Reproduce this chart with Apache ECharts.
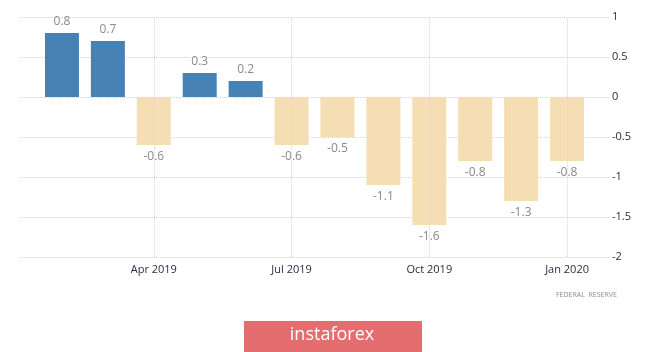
<!DOCTYPE html>
<html>
<head>
<meta charset="utf-8">
<script src="https://cdn.jsdelivr.net/npm/echarts@6/dist/echarts.min.js"></script>
<style>
  html, body { margin: 0; padding: 0; background: #fff; }
  #chart { width: 665px; height: 352px; }
</style>
</head>
<body>
<div id="chart"></div>
<script>
// monthly change, Feb 2019 - Jan 2020
var months = ['Feb 2019', 'Mar 2019', 'Apr 2019', 'May 2019', 'Jun 2019', 'Jul 2019',
              'Aug 2019', 'Sep 2019', 'Oct 2019', 'Nov 2019', 'Dec 2019', 'Jan 2020'];
var values = [0.8, 0.7, -0.6, 0.3, 0.2, -0.6, -0.5, -1.1, -1.6, -0.8, -1.3, -0.8];
var shownMonths = ['Apr 2019', 'Jul 2019', 'Oct 2019', 'Jan 2020'];
var yTicks = { min: -2, max: 1, step: 0.5 };

var chart = echarts.init(document.getElementById('chart'));

var barData = values.map(function (v) {
    return {
        value: v,
        itemStyle: { color: v >= 0 ? '#4682b4' : '#f5deb3' },
        label: { position: v >= 0 ? 'top' : 'bottom', distance: v >= 0 ? 5 : 6 }
    };
});

var option = {
    backgroundColor: '#fff',
    animation: false,
    grid: [
        // wide grid: horizontal lines + right labels
        { left: 20, right: 55, top: 17, bottom: 95 },
        // bars
        { left: 39, right: 75, top: 17, bottom: 95 }
    ],
    xAxis: [
        { gridIndex: 0, type: 'value', show: false, min: 0, max: 1 },
        {
            gridIndex: 1,
            type: 'category',
            data: months,
            boundaryGap: true,
            axisLine: { show: false },
            axisTick: { show: false },
            splitLine: { show: false },
            axisLabel: {
                margin: 7,
                color: '#2b2b45',
                fontSize: 11,
                fontFamily: 'Open Sans, sans-serif',
                interval: function (i, name) { return shownMonths.indexOf(name) >= 0; }
            }
        }
    ],
    yAxis: [
        {
            gridIndex: 0,
            type: 'value',
            position: 'right',
            min: yTicks.min,
            max: yTicks.max,
            interval: yTicks.step,
            axisLine: { show: false },
            axisTick: { show: false },
            axisLabel: {
                margin: 2,
                color: '#2b2b45',
                fontSize: 11,
                fontFamily: 'Open Sans, sans-serif'
            },
            splitLine: { lineStyle: { color: '#d4d4d4', type: 'dotted', width: 1 } }
        },
        {
            gridIndex: 1,
            type: 'value',
            min: yTicks.min,
            max: yTicks.max,
            interval: yTicks.step,
            show: false,
            splitLine: { show: false }
        }
    ],
    series: [
        {
            name: 'change',
            type: 'bar',
            xAxisIndex: 1,
            yAxisIndex: 1,
            barWidth: 34,
            data: barData,
            label: {
                show: true,
                color: '#8a8a8a',
                fontSize: 12,
                fontFamily: 'Open Sans, sans-serif'
            },
            markLine: {
                silent: true,
                symbol: 'none',
                label: { show: false },
                lineStyle: { color: '#d8d8d8', type: 'dotted', width: 1 },
                data: shownMonths.map(function (m) { return { xAxis: m }; })
            },
            z: 3
        }
    ],
    graphic: [
        {
            type: 'text',
            left: 556,
            top: 291,
            style: {
                text: 'FEDERAL  RESERVE',
                fill: '#8c8c8c',
                font: '7px "Open Sans", sans-serif'
            }
        },
        {
            type: 'rect',
            left: 244,
            top: 321,
            shape: { width: 178, height: 31 },
            style: { fill: '#e46d6f' }
        },
        {
            type: 'text',
            x: 332,
            y: 335,
            style: {
                text: 'instaforex',
                fill: '#fff',
                align: 'center',
                verticalAlign: 'middle',
                font: '18px "Open Sans", sans-serif'
            }
        }
    ]
};

chart.setOption(option);
</script>
</body>
</html>
